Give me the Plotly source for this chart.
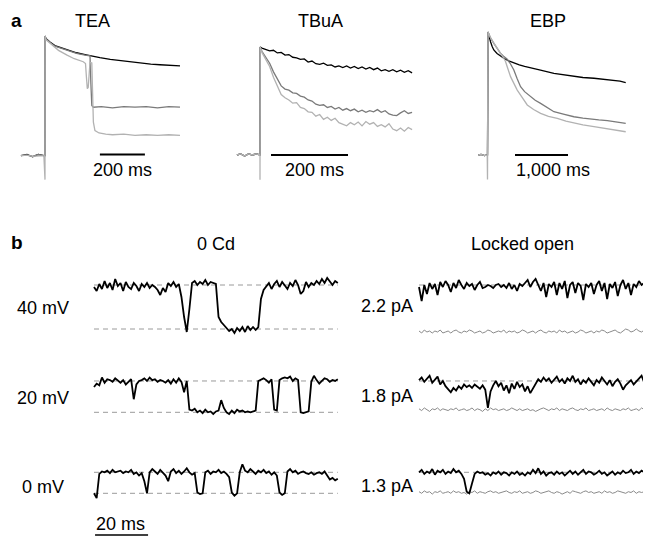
import plotly.graph_objects as go

# page is 651x539; the html body has an 8px margin, so the figure is drawn 8px in
PAGE_W, PAGE_H, OFF = 651, 539, 8
W, H = PAGE_W - OFF, PAGE_H - OFF
FONT = "Liberation Sans, Arial, Helvetica, sans-serif"
BLACK, DARK, LIGHT = "#000000", "#7a7a7a", "#b2b2b2"
LOCK_GRAY, DASH_C = "#8a8a8a", "#9a9a9a"

# ---------------- panel a data (normalised current, time in ms) ----------------
tea_black_t = [-107, -80, -55, -30, -5, 0, 0.5, 4, 22, 44, 67, 90, 111, 140, 178, 210, 244, 290, 333, 380, 422, 470, 511, 560, 600]
tea_black_v = [0.0, 0.01, -0.01, 0.01, 0.0, 0.0, 1.0, 0.98, 0.95, 0.92, 0.905, 0.89, 0.875, 0.86, 0.845, 0.83, 0.82, 0.805, 0.795, 0.785, 0.775, 0.765, 0.76, 0.755, 0.75]
tea_dark_t = [-107, -80, -55, -30, -5, 0, 0.5, 4, 22, 44, 67, 90, 111, 140, 178, 200, 204, 208, 215, 250, 300, 350, 400, 450, 500, 550, 600]
tea_dark_v = [0.0, 0.005, -0.005, 0.01, 0.0, 0.0, 1.0, 0.975, 0.945, 0.915, 0.9, 0.885, 0.87, 0.855, 0.84, 0.835, 0.6, 0.42, 0.405, 0.41, 0.4, 0.41, 0.405, 0.41, 0.4, 0.41, 0.405]
tea_light_t = [-107, -80, -55, -30, -5, 0, 0.3, 4, 22, 35, 60, 98, 130, 170, 180, 184, 188, 192, 196, 200, 208, 212, 215, 222, 240, 270, 300, 350, 400, 450, 500, 550, 600]
tea_light_v = [0.0, 0.005, -0.005, 0.0, 0.0, -0.2, 1.0, 0.97, 0.94, 0.92, 0.88, 0.84, 0.81, 0.785, 0.77, 0.66, 0.56, 0.57, 0.7, 0.78, 0.775, 0.5, 0.28, 0.21, 0.19, 0.18, 0.175, 0.18, 0.17, 0.175, 0.17, 0.175, 0.17]

tbua_base_t = [-60, -50, -40, -30, -20, -10, 0]
tbua_base_v = [0.0, 0.01, -0.01, 0.01, 0.0, 0.01, 0.0]
tbua_t = [5, 15, 25, 35, 45, 55, 65, 75, 85, 95, 105, 115, 125, 135, 145, 155, 165, 175, 185, 195,
          205, 215, 225, 235, 245, 255, 265, 275, 285, 295, 305, 315, 325, 335, 345, 355, 365, 375, 385, 395]
tbua_black = [0.99, 0.98, 0.965, 0.97, 0.945, 0.95, 0.925, 0.93, 0.905, 0.9, 0.885, 0.89, 0.86, 0.87, 0.845, 0.84, 0.85, 0.83, 0.835, 0.815,
              0.825, 0.81, 0.825, 0.805, 0.82, 0.8, 0.815, 0.795, 0.81, 0.79, 0.805, 0.78, 0.79, 0.775, 0.79, 0.77, 0.785, 0.765, 0.78, 0.76]
tbua_dark = [0.96, 0.9, 0.85, 0.77, 0.7, 0.64, 0.61, 0.6, 0.575, 0.57, 0.545, 0.535, 0.51, 0.5, 0.47, 0.46, 0.465, 0.44, 0.45, 0.425,
             0.44, 0.415, 0.43, 0.41, 0.425, 0.4, 0.415, 0.395, 0.41, 0.4, 0.42, 0.395, 0.41, 0.38, 0.37, 0.365, 0.39, 0.41, 0.385, 0.395]
tbua_light = [0.95, 0.88, 0.82, 0.72, 0.64, 0.56, 0.53, 0.51, 0.48, 0.485, 0.44, 0.43, 0.4, 0.395, 0.36, 0.375, 0.33, 0.35, 0.32, 0.34,
              0.3, 0.285, 0.27, 0.3, 0.28, 0.305, 0.27, 0.31, 0.285, 0.3, 0.265, 0.28, 0.26, 0.29, 0.24, 0.225, 0.25, 0.22, 0.255, 0.235]

ebp_black_t = [-170, -120, -60, -5, 0, 10, 30, 57, 90, 119, 180, 240, 308, 400, 497, 600, 700, 875, 1000, 1253, 1450, 1631, 1800, 2009, 2200, 2388, 2500, 2608]
ebp_black_v = [0.0, 0.005, -0.005, 0.0, 0.0, 1.0, 0.96, 0.921, 0.88, 0.854, 0.825, 0.805, 0.786, 0.765, 0.746, 0.732, 0.72, 0.705, 0.69, 0.664, 0.65, 0.637, 0.63, 0.624, 0.617, 0.61, 0.6, 0.588]
ebp_dark_t = [-170, -120, -60, -5, 0, 10, 60, 119, 180, 246, 310, 372, 435, 497, 560, 624, 700, 813, 900, 1002, 1120, 1253, 1450, 1631, 1800, 1947, 2100, 2262, 2450, 2608]
ebp_dark_v = [0.0, 0.005, -0.005, 0.0, 0.0, 1.0, 0.95, 0.908, 0.865, 0.827, 0.8, 0.778, 0.74, 0.691, 0.62, 0.555, 0.515, 0.474, 0.445, 0.42, 0.39, 0.352, 0.33, 0.311, 0.3, 0.29, 0.285, 0.279, 0.27, 0.258]
ebp_light_t = [-170, -120, -60, -5, 0, 10, 60, 119, 180, 246, 308, 340, 372, 400, 435, 500, 561, 650, 750, 870, 1002, 1150, 1317, 1480, 1631, 1800, 2009, 2200, 2400, 2608]
ebp_light_v = [0.0, 0.005, -0.005, 0.0, -0.2, 1.0, 0.95, 0.908, 0.865, 0.827, 0.786, 0.76, 0.718, 0.68, 0.637, 0.58, 0.528, 0.47, 0.407, 0.37, 0.339, 0.315, 0.298, 0.275, 0.258, 0.245, 0.23, 0.215, 0.2, 0.189]

# ---------------- panel b data (current in pA, time in ms) ----------------
amplitudes = [2.2, 1.8, 1.3]
row_labels = ["40 mV", "20 mV", "0 mV"]
amp_labels = ["2.2 pA", "1.8 pA", "1.3 pA"]
t_0cd = list(range(93))
t_lock = list(range(87))

r1_0cd = [2.1, 1.9, 2.25, 2.0, 2.4, 2.05, 2.3, 1.95, 2.5, 2.15,
          2.3, 1.9, 2.35, 2.1, 2.0, 2.3, 2.15, 1.9, 2.25, 2.1,
          2.3, 2.05, 2.2, 2.1, 1.95, 1.7, 2.05, 1.85, 2.3, 2.15,
          2.35, 2.1, 2.25, 1.6, 0.6, -0.15, 1.0, 2.3, 2.4, 2.2,
          2.35, 2.25, 2.45, 2.2, 2.35, 2.3, 2.25, 0.6, 0.35, 0.2,
          0.05, -0.1, 0.0, -0.2, 0.05, -0.1, 0.1, -0.15, 0.15, -0.05,
          0.1, -0.05, 0.1, 1.5, 1.95, 2.1, 2.3, 2.0, 2.25, 2.4,
          2.1, 2.35, 2.2, 2.0, 2.3, 2.15, 2.45, 2.2, 1.75, 1.9,
          2.35, 2.1, 2.3, 2.2, 2.4, 2.25, 2.5, 2.3, 2.55, 2.35,
          2.2, 2.4, 2.3]
r2_0cd = [1.45, 1.65, 1.55, 2.0, 1.7, 1.9, 1.85, 1.75, 1.95, 1.8,
          1.7, 1.85, 1.6, 1.75, 1.9, 0.75, 1.6, 1.8, 1.85, 1.95,
          1.8, 2.0, 1.85, 1.9, 1.75, 1.85, 1.8, 1.7, 1.85, 1.65,
          1.9, 1.7, 1.95, 1.75, 1.15, 1.8, 0.15, 0.1, 0.2, 0.0,
          0.1, -0.05, 0.15, 0.0, 0.05, -0.1, 0.05, 0.1, 0.7, 0.25,
          0.0, -0.1, 0.1, -0.05, 0.15, 0.05, 0.1, 0.0, 0.05, 0.0,
          0.05, 0.1, 1.8, 1.9, 1.95, 1.85, 1.7, 1.9, 0.15, 0.1,
          1.85, 1.95, 2.0, 1.95, 2.05, 1.8, 1.95, 1.85, 0.0, -0.05,
          0.0, 0.05, 1.75, 2.1, 1.85, 1.65, 1.8, 1.95, 1.9, 1.75,
          1.85, 1.8, 1.9]
r3_0cd = [0.0, -0.3, 1.2, 1.35, 1.3, 1.4, 1.25, 1.45, 1.3, 1.35,
          1.4, 1.25, 1.35, 1.3, 1.45, 1.2, 1.3, 1.1, 1.25, 0.75,
          0.0, 1.3, 1.5, 1.35, 1.2, 1.45, 1.3, 1.1, 0.75, 1.35,
          1.5, 1.25, 1.4, 1.2, 1.35, 1.55, 1.3, 1.15, 1.25, 0.05,
          -0.05, 0.0, 1.3, 1.4, 1.2, 1.35, 1.3, 1.45, 1.25, 1.35,
          1.2, 1.0, 0.05, -0.15, 0.0, 1.3, 1.8, 1.4, 1.3, 1.5,
          1.35, 1.2, 1.4, 1.3, 1.45, 1.25, 1.35, 1.15, 1.3, 1.1,
          0.05, -0.1, 0.0, 1.35, 1.5, 1.3, 1.4, 1.2, 1.3, 1.35,
          1.25, 1.2, 1.3, 1.15, 1.25, 1.3, 1.2, 1.35, 1.1, 0.85,
          0.95, 0.8, 0.9]

lo1_black = [2.1, 1.4, 2.2, 1.75, 2.3, 2.0, 2.25, 1.7, 2.35, 2.1,
             2.4, 2.2, 1.85, 2.3, 2.05, 2.45, 2.2, 2.0, 2.3, 2.15,
             2.25, 1.95, 2.2, 2.35, 2.05, 2.1, 2.2, 2.15, 2.05, 2.2,
             2.25, 2.1, 2.2, 2.05, 2.3, 2.0, 2.2, 1.9, 2.25, 2.15,
             2.3, 2.45, 2.1, 2.35, 2.5, 2.2, 1.9, 2.3, 1.6, 2.25,
             2.1, 2.35, 1.7, 2.3, 2.0, 2.4, 1.55, 2.2, 2.35, 1.8,
             2.3, 2.15, 1.45, 2.25, 2.1, 2.3, 1.75, 2.2, 2.4, 1.9,
             2.3, 1.5, 2.25, 2.05, 2.35, 1.65, 2.2, 2.45, 2.0, 2.3,
             1.7, 2.25, 2.1, 2.4, 2.2, 2.3, 2.15]
lo1_gray = [-0.1, -0.2, -0.05, -0.15, -0.1, -0.2, -0.1, -0.15, -0.05, -0.2,
            -0.15, -0.1, -0.2, -0.1, -0.05, -0.15, -0.2, -0.1, -0.15, -0.05,
            -0.1, -0.2, -0.15, -0.1, -0.2, -0.15, -0.05, -0.1, -0.2, -0.15,
            -0.1, -0.15, -0.05, -0.2, -0.1, -0.15, -0.1, -0.2, -0.15, -0.05,
            -0.1, -0.2, -0.15, -0.1, -0.2, -0.1, -0.05, -0.15, -0.2, -0.1,
            -0.15, -0.1, -0.2, -0.05, -0.15, -0.1, -0.2, -0.15, -0.1, -0.2,
            -0.15, -0.05, -0.1, -0.2, -0.15, -0.1, -0.2, -0.1, -0.15, -0.05,
            -0.1, -0.2, -0.15, -0.1, -0.05, -0.15, -0.2, -0.1, 0.0, -0.05,
            -0.15, -0.1, 0.0, -0.1, -0.15, -0.05, -0.1]
lo2_black = [1.85, 2.0, 1.75, 1.95, 2.1, 1.7, 1.9, 2.05, 1.6, 1.8,
             1.5, 1.3, 1.15, 1.4, 1.25, 1.5, 1.35, 1.6, 1.45, 1.55,
             1.4, 1.6, 1.5, 1.35, 1.55, 1.3, 0.25, 1.2, 1.55, 1.8,
             1.5, 1.7, 1.25, 1.55, 1.1, 1.65, 1.35, 1.75, 1.45, 1.6,
             1.2, 1.5, 1.1, 1.35, 1.6, 1.9, 1.75, 2.0, 1.8, 1.95,
             1.7, 1.85, 2.05, 1.75, 1.9, 1.65, 1.95, 1.8, 2.1, 1.75,
             1.9, 1.6, 1.85, 1.7, 1.95, 1.75, 1.55, 1.85, 1.7, 2.0,
             1.8, 1.6, 1.85, 1.5, 1.75, 1.9, 1.65, 1.3, 1.55, 1.7,
             1.85, 1.6, 1.75, 1.9, 2.1, 1.7, 1.95]
lo2_gray = [0.2, 0.1, 0.25, 0.15, 0.05, 0.2, 0.15, 0.25, 0.1, 0.2,
            0.15, 0.1, 0.2, 0.15, 0.25, 0.1, 0.15, 0.2, 0.1, 0.15,
            0.25, 0.1, 0.2, 0.15, 0.05, 0.2, 0.1, 0.25, 0.15, 0.2,
            0.1, 0.15, 0.2, 0.1, 0.15, 0.25, 0.15, 0.1, 0.2, 0.1,
            0.15, 0.2, 0.1, 0.15, 0.05, 0.15, 0.2, 0.25, 0.15, 0.1,
            0.2, 0.15, 0.25, 0.1, 0.2, 0.15, 0.1, 0.2, 0.25, 0.15,
            0.1, 0.2, 0.15, 0.25, 0.1, 0.15, 0.2, 0.1, 0.15, 0.2,
            0.1, 0.25, 0.15, 0.1, 0.2, 0.15, 0.1, 0.2, 0.15, 0.25,
            0.1, 0.15, 0.2, 0.1, 0.25, 0.15, 0.2]
lo3_black = [1.3, 1.45, 1.2, 1.35, 1.25, 1.5, 1.15, 1.4, 1.3, 1.45,
             1.2, 1.35, 1.25, 1.5, 1.3, 1.4, 1.2, 0.9, 0.1, 0.0,
             0.6, 1.2, 1.35, 1.25, 1.3, 1.15, 1.25, 1.1, 1.3, 1.2,
             1.35, 1.15, 1.3, 1.25, 1.1, 1.3, 1.2, 1.35, 1.15, 1.25,
             1.1, 1.3, 1.2, 1.45, 1.25, 1.55, 1.2, 1.35, 1.1, 1.25,
             1.3, 1.15, 1.35, 1.2, 1.3, 1.1, 1.25, 1.4, 1.2, 1.35,
             1.15, 1.3, 1.45, 1.2, 1.35, 1.3, 1.15, 1.25, 1.4, 1.2,
             1.3, 1.1, 1.25, 1.35, 1.15, 1.3, 1.2, 1.4, 1.25, 1.3,
             1.45, 1.2, 1.35, 1.25, 1.4, 1.3, 1.35]
lo3_gray = [0.1, 0.0, 0.15, 0.05, 0.1, -0.05, 0.1, 0.05, 0.15, 0.0,
            0.05, 0.1, 0.0, 0.15, 0.05, 0.1, 0.0, 0.05, -0.05, 0.1,
            0.05, 0.15, 0.0, 0.1, 0.05, 0.0, 0.1, 0.15, 0.05, 0.1,
            0.0, 0.05, 0.1, 0.15, 0.05, 0.0, 0.1, 0.05, 0.15, 0.0,
            0.05, 0.1, 0.0, 0.05, 0.15, 0.1, 0.0, 0.05, 0.1, 0.15,
            0.05, 0.0, 0.1, 0.05, -0.05, 0.05, 0.1, 0.0, 0.15, 0.1,
            0.05, 0.0, 0.1, 0.15, 0.05, 0.1, 0.0, 0.05, 0.1, 0.0,
            0.15, 0.05, 0.1, 0.0, 0.05, 0.15, 0.1, 0.05, 0.0, 0.1,
            0.05, 0.15, 0.0, 0.1, 0.05, 0.1, 0.0]

scale_a = [200, 200, 1000]
scale_a_labels = ["200 ms", "200 ms", "1,000 ms"]
scale_b = 20
titles_a = ["TEA", "TBuA", "EBP"]

# ---------------- figure ----------------
fig = go.Figure()


def line(x, y, xa, ya, color, width, dash=None):
    fig.add_trace(go.Scatter(x=x, y=y, xaxis=xa, yaxis=ya, mode="lines",
                             line=dict(color=color, width=width, dash=dash),
                             hoverinfo="skip", showlegend=False))


def fx(px):  # page pixel -> paper x
    return min(max((px - OFF) / W, 0.0), 1.0)


def fy(py):  # page pixel -> paper y
    return min(max(1 - (py - OFF) / H, 0.0), 1.0)


def xax(px0, px1, zero_px, ppu, anchor):
    return dict(domain=[fx(px0), fx(px1)], range=[(px0 - zero_px) / ppu, (px1 - zero_px) / ppu],
                visible=False, fixedrange=True, anchor=anchor)


def yax(top, bot, zero_py, ppu, anchor):
    return dict(domain=[fy(bot), fy(top)], range=[(zero_py - bot) / ppu, (zero_py - top) / ppu],
                visible=False, fixedrange=True, anchor=anchor)


# panel a
line(tea_black_t, tea_black_v, "x", "y", BLACK, 1.3)
line(tea_dark_t, tea_dark_v, "x", "y", DARK, 1.3)
line(tea_light_t, tea_light_v, "x", "y", LIGHT, 1.3)

line(tbua_base_t + [0, 0.5] + tbua_t, tbua_base_v + [0.0, 1.0] + tbua_black, "x2", "y2", BLACK, 1.3)
line(tbua_base_t + [0, 0.5] + tbua_t, tbua_base_v + [0.0, 1.0] + tbua_dark, "x2", "y2", DARK, 1.3)
line(tbua_base_t + [0, 0.5] + tbua_t, tbua_base_v + [-0.23, 1.0] + tbua_light, "x2", "y2", LIGHT, 1.3)

line(ebp_black_t, ebp_black_v, "x3", "y3", BLACK, 1.3)
line(ebp_dark_t, ebp_dark_v, "x3", "y3", DARK, 1.3)
line(ebp_light_t, ebp_light_v, "x3", "y3", LIGHT, 1.3)

# panel b
rows_0cd = [r1_0cd, r2_0cd, r3_0cd]
rows_lb = [lo1_black, lo2_black, lo3_black]
rows_lg = [lo1_gray, lo2_gray, lo3_gray]
yn = ["y4", "y5", "y6"]
for i in range(3):
    amp = amplitudes[i]
    line([t_0cd[0], t_0cd[-1]], [amp, amp], "x4", yn[i], DASH_C, 1, "5px,4px")
    line([t_0cd[0], t_0cd[-1]], [0, 0], "x4", yn[i], DASH_C, 1, "5px,4px")
    line([t_lock[0], t_lock[-1]], [amp, amp], "x5", yn[i], DASH_C, 1, "5px,4px")
    line(t_0cd, rows_0cd[i], "x4", yn[i], BLACK, 1.8)
    line(t_lock, rows_lg[i], "x5", yn[i], LOCK_GRAY, 1.0)
    line(t_lock, rows_lb[i], "x5", yn[i], BLACK, 1.8)

layout_axes = dict(
    xaxis=xax(15, 185, 45, 0.225, "y"), yaxis=yax(25, 190, 155.7, 119.7, "x"),
    xaxis2=xax(232, 420, 260, 0.385, "y2"), yaxis2=yax(25, 190, 155, 108, "x2"),
    xaxis3=xax(470, 640, 487.5, 0.053, "y3"), yaxis3=yax(25, 190, 155, 123, "x3"),
    xaxis4=xax(88, 346, 94, 2.65, "y4"), xaxis5=xax(412, 651, 419, 2.65, "y4"),
    yaxis4=yax(268, 346, 329, 20.0, "x4"),
    yaxis5=yax(360, 430, 412.3, 17.4, "x4"),
    yaxis6=yax(450, 530, 493.3, 16.15, "x4"),
)

shapes = []
bar_starts = [244, 28.6, 519]
bar_y = [154.5, 155, 155]
for i, xa in enumerate(["x", "x2", "x3"]):
    shapes.append(dict(type="line", xref=xa, yref="paper", x0=bar_starts[i], x1=bar_starts[i] + scale_a[i],
                       y0=fy(bar_y[i]), y1=fy(bar_y[i]), line=dict(color=BLACK, width=2)))
shapes.append(dict(type="line", xref="x4", yref="paper", x0=0.4, x1=0.4 + scale_b,
                   y0=fy(535), y1=fy(535), line=dict(color=BLACK, width=1.5)))

ann = []


def text(s, px, py, size=18, xanchor="center", bold=False):
    ann.append(dict(text=("<b>%s</b>" % s) if bold else s, x=fx(px), y=fy(py), xref="paper", yref="paper",
                    xanchor=xanchor, yanchor="middle", showarrow=False,
                    font=dict(family=FONT, size=size, color=BLACK)))


text("a", 16, 20, 19, bold=True)
text("b", 17, 243, 19, bold=True)
for s, px in zip(titles_a, [92, 320, 548]):
    text(s, px, 21)
for s, px in zip(scale_a_labels, [122, 314, 553]):
    text(s, px, 170)
text("0 Cd", 216, 244)
text("Locked open", 522, 244)
for s, py in zip(row_labels, [308, 398, 487]):
    text(s, 43, py)
for s, py in zip(amp_labels, [306, 396, 486]):
    text(s, 415, py, xanchor="right")
text("20 ms", 121, 524)

fig.update_layout(width=W, height=H, margin=dict(l=0, r=0, t=0, b=0),
                  paper_bgcolor="white", plot_bgcolor="white",
                  shapes=shapes, annotations=ann, **layout_axes)
fig.write_html("out.html")
